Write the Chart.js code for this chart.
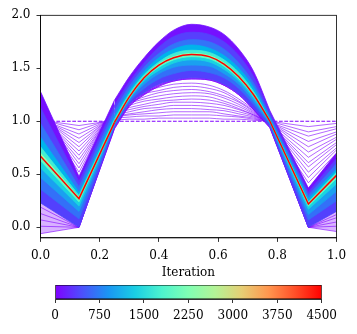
<!DOCTYPE html>
<html>
<head>
<meta charset="utf-8">
<script src="https://cdn.jsdelivr.net/npm/chart.js@4.4.1/dist/chart.umd.min.js"></script>
<style>
  html, body { margin: 0; padding: 0; background: #fff; }
  #wrap { position: relative; width: 357px; height: 334px; }
  #main { position: absolute; left: 0; top: 0; }
  #cbar { position: absolute; left: 0; top: 258px; }
</style>
</head>
<body>
<div id="wrap">
  <canvas id="main" width="357" height="334"></canvas>
  <canvas id="cbar" width="357" height="76"></canvas>
</div>
<script>
const xs = [0, 0.13, 0.25, 0.30, 0.35, 0.40, 0.45, 0.51, 0.57, 0.62, 0.67, 0.72, 0.775, 0.905, 1.0];

// iteration 0 (dashed) and the converged result (red)
const initial   = [1.00, 1.00, 1.00, 1.00, 1.00, 1.00, 1.00, 1.00, 1.00, 1.00, 1.00, 1.00, 1.00, 1.00, 1.00];
const finalIter = [0.67, 0.27, 0.99, 1.23, 1.41, 1.53, 1.60, 1.63, 1.61, 1.54, 1.42, 1.25, 1.00, 0.22, 0.49];

// overshooting iterates, outermost first
const upper1 = [1.28, 0.48, 1.20, 1.42, 1.60, 1.75, 1.86, 1.915, 1.89, 1.82, 1.68, 1.47, 1.10, 0.37, 0.70];
const upper2 = [1.13, 0.43, 1.15, 1.37, 1.55, 1.70, 1.80, 1.84, 1.82, 1.75, 1.62, 1.42, 1.08, 0.33, 0.65];
const upper3 = [0.98, 0.38, 1.10, 1.33, 1.51, 1.64, 1.73, 1.77, 1.75, 1.68, 1.55, 1.36, 1.05, 0.30, 0.60];
const upper4 = [0.85, 0.33, 1.05, 1.29, 1.47, 1.60, 1.68, 1.72, 1.69, 1.62, 1.50, 1.32, 1.03, 0.27, 0.55];
const upper5 = [0.76, 0.30, 1.02, 1.26, 1.44, 1.56, 1.64, 1.67, 1.65, 1.58, 1.46, 1.28, 1.01, 0.24, 0.52];
const upper6 = [0.70, 0.28, 1.00, 1.24, 1.42, 1.54, 1.61, 1.64, 1.62, 1.55, 1.43, 1.26, 1.00, 0.23, 0.50];

// undershooting iterates, outermost first
const lower1 = [0.23, 0.00, 0.95, 1.16, 1.27, 1.35, 1.39, 1.41, 1.40, 1.35, 1.26, 1.12, 0.95, 0.00, 0.15];
const lower2 = [0.36, 0.08, 0.96, 1.18, 1.31, 1.40, 1.45, 1.48, 1.46, 1.41, 1.31, 1.16, 0.97, 0.07, 0.25];
const lower3 = [0.47, 0.15, 0.97, 1.20, 1.35, 1.45, 1.51, 1.53, 1.52, 1.45, 1.35, 1.19, 0.98, 0.12, 0.34];
const lower4 = [0.56, 0.20, 0.98, 1.21, 1.38, 1.48, 1.55, 1.58, 1.56, 1.49, 1.38, 1.22, 0.99, 0.17, 0.41];
const lower5 = [0.63, 0.24, 0.99, 1.22, 1.40, 1.51, 1.58, 1.61, 1.59, 1.52, 1.40, 1.24, 1.00, 0.20, 0.46];

// thin purple iterates pinned at 0 under the band
const lowTail1 = [-0.06, 0.00, 0.93, 1.14, 1.25, 1.33, 1.38, 1.40, 1.39, 1.34, 1.25, 1.11, 0.94, 0.00, -0.04];
const lowTail2 = [0.01, 0.00, 0.93, 1.14, 1.25, 1.33, 1.38, 1.40, 1.39, 1.34, 1.25, 1.11, 0.94, 0.00, 0.01];
const lowTail3 = [0.07, 0.00, 0.94, 1.15, 1.26, 1.34, 1.38, 1.40, 1.39, 1.34, 1.25, 1.11, 0.94, 0.00, 0.05];
const lowTail4 = [0.13, 0.00, 0.94, 1.15, 1.26, 1.34, 1.39, 1.41, 1.40, 1.35, 1.26, 1.12, 0.95, 0.00, 0.09];
const lowTail5 = [0.19, 0.00, 0.95, 1.16, 1.27, 1.35, 1.39, 1.41, 1.40, 1.35, 1.26, 1.12, 0.95, 0.00, 0.12];

// first iterations leaving the flat start
const early = [
  [1.01, 0.96, 1.01, 1.02, 1.02, 1.03, 1.03, 1.03, 1.03, 1.02, 1.02, 1.01, 1.00, 0.95, 0.98],
  [1.02, 0.92, 1.03, 1.04, 1.05, 1.05, 1.06, 1.06, 1.06, 1.05, 1.04, 1.02, 1.00, 0.90, 0.95],
  [1.02, 0.88, 1.04, 1.06, 1.07, 1.08, 1.09, 1.09, 1.09, 1.07, 1.05, 1.03, 0.99, 0.86, 0.93],
  [1.03, 0.84, 1.05, 1.07, 1.09, 1.11, 1.12, 1.12, 1.11, 1.10, 1.07, 1.04, 0.99, 0.81, 0.90],
  [1.04, 0.80, 1.06, 1.09, 1.12, 1.13, 1.15, 1.15, 1.14, 1.12, 1.09, 1.05, 0.99, 0.76, 0.88],
  [1.05, 0.76, 1.08, 1.11, 1.14, 1.16, 1.18, 1.18, 1.17, 1.15, 1.11, 1.06, 0.99, 0.71, 0.85],
  [1.05, 0.72, 1.09, 1.13, 1.16, 1.19, 1.20, 1.21, 1.20, 1.17, 1.12, 1.06, 0.98, 0.66, 0.83],
  [1.06, 0.68, 1.10, 1.15, 1.19, 1.21, 1.23, 1.24, 1.23, 1.19, 1.14, 1.07, 0.98, 0.61, 0.80],
  [1.07, 0.64, 1.11, 1.17, 1.21, 1.24, 1.26, 1.27, 1.26, 1.22, 1.16, 1.08, 0.98, 0.57, 0.78],
  [1.08, 0.60, 1.13, 1.18, 1.23, 1.27, 1.29, 1.30, 1.28, 1.24, 1.18, 1.09, 0.98, 0.52, 0.75],
  [1.08, 0.56, 1.14, 1.20, 1.26, 1.29, 1.32, 1.33, 1.31, 1.27, 1.19, 1.10, 0.97, 0.47, 0.73],
  [1.09, 0.52, 1.15, 1.22, 1.28, 1.32, 1.35, 1.36, 1.34, 1.29, 1.21, 1.11, 0.97, 0.42, 0.70]
];

// tick labels
const xTicks = [0, 0.2, 0.4, 0.6, 0.8, 1.0];
const yTicks = [0, 0.5, 1.0, 1.5, 2.0];
const cbarTicks = [0, 750, 1500, 2250, 3000, 3750, 4500];

/* -----------------------------------------------------
   STYLE
----------------------------------------------------- */
const FONT = "'DejaVu Serif', serif";
const PURPLE = '#8000ff';
const rainbow = ['#8000ff', '#4d4ffc', '#1a96f3', '#1acee3', '#4df3ce', '#80ffb4',
                 '#b3f396', '#e6ce74', '#ff964f', '#ff4f28', '#ff0000'];

Chart.defaults.font.family = FONT;
Chart.defaults.font.size = 12;
Chart.defaults.color = '#000';

const pts = ys => ys.map((y, i) => ({ x: xs[i], y }));

/* -----------------------------------------------------
   DATASETS (lower order = drawn on top)
   each curve = straight left V, smooth hump, straight right V
----------------------------------------------------- */
const pieces = [[0, 2, false], [2, 12, true], [12, 14, false]];
const datasets = [];

function addCurve(ys, style, fillTo) {
  const ids = [];
  pieces.forEach(([a, b, smooth], s) => {
    ids.push(datasets.length);
    datasets.push({
      data: pts(ys).slice(a, b + 1),
      cubicInterpolationMode: smooth ? 'monotone' : 'default',
      ...style,
      fill: fillTo ? fillTo[s] : false
    });
  });
  return ids;
}

const redIds = addCurve(finalIter, { borderColor: '#ff0000', borderWidth: 1.5, order: 0 });

// band: inner layers on top, every layer filled to the red curve
const bandLayers = [
  [upper6, '#99fca5'], [lower5, '#66fcc2'],
  [upper5, '#42edd3'], [lower4, '#1ad4e0'],
  [upper4, '#00b4eb'], [lower3, '#1aa0f0'],
  [upper3, '#3374f8'], [lower2, '#3370f8'],
  [upper2, '#573ffd'], [lower1, '#5340fd'],
  [upper1, '#7510ff']
];
let lower1Ids = null;
bandLayers.forEach(([ys, col], k) => {
  const ids = addCurve(ys, { borderColor: col, backgroundColor: col, borderWidth: 0.8, order: k + 1 }, redIds);
  if (ys === lower1) lower1Ids = ids;
});

datasets.push({
  data: pts(initial), borderColor: PURPLE, borderWidth: 1.1, borderDash: [3.7, 1.6],
  fill: false, order: 20
});

[lowTail1, lowTail2, lowTail3, lowTail4, lowTail5].forEach((ys, k) => {
  addCurve(ys, {
    borderColor: PURPLE, borderWidth: 0.6,
    backgroundColor: 'rgba(128,0,255,0.3)', order: 21 + k
  }, k === 0 ? lower1Ids : null);
});

early.forEach((ys, k) => {
  addCurve(ys, { borderColor: PURPLE, borderWidth: 0.6, order: 30 + k });
});

/* -----------------------------------------------------
   FULL FRAME AROUND THE AXES
----------------------------------------------------- */
const frame = {
  id: 'frame',
  afterDatasetsDraw(chart) {
    const { ctx, chartArea: a } = chart;
    ctx.save();
    ctx.strokeStyle = '#000';
    ctx.lineWidth = 0.8;
    ctx.strokeRect(a.left, a.top, a.right - a.left, a.bottom - a.top);
    ctx.restore();
  }
};

const axisCommon = {
  grid: { drawOnChartArea: false, drawTicks: true, tickLength: 4, tickColor: '#000', tickWidth: 0.8 },
  border: { display: true, color: '#000', width: 0.8 }
};

new Chart(document.getElementById('main'), {
  type: 'line',
  data: { datasets },
  options: {
    responsive: false,
    animation: false,
    devicePixelRatio: 1,
    events: [],
    layout: { padding: { left: 0, top: 15.3, right: 20.5, bottom: 0 } },
    elements: { point: { radius: 0 }, line: { tension: 0 } },
    plugins: { legend: { display: false }, tooltip: { enabled: false } },
    scales: {
      x: {
        type: 'linear', min: 0, max: 1,
        afterBuildTicks: s => { s.ticks = xTicks.map(v => ({ value: v })); },
        afterFit: s => { s.height = 334 - 237.9; },
        ticks: { padding: 7, callback: v => v.toFixed(1) },
        ...axisCommon
      },
      y: {
        type: 'linear', min: -0.1, max: 2.0,
        afterBuildTicks: s => { s.ticks = yTicks.map(v => ({ value: v })); },
        afterFit: s => { s.width = 40.5; },
        ticks: { padding: 6, callback: v => v.toFixed(1) },
        ...axisCommon
      }
    }
  },
  plugins: [frame]
});

/* -----------------------------------------------------
   COLORBAR
----------------------------------------------------- */
new Chart(document.getElementById('cbar'), {
  type: 'bar',
  data: {
    labels: [''],
    datasets: [{
      data: [[cbarTicks[0], cbarTicks[cbarTicks.length - 1]]],
      backgroundColor: c => {
        const area = c.chart.chartArea;
        if (!area) return PURPLE;
        const g = c.chart.ctx.createLinearGradient(area.left, 0, area.right, 0);
        rainbow.forEach((col, i) => g.addColorStop(i / (rainbow.length - 1), col));
        return g;
      },
      borderColor: '#000',
      borderWidth: 0.8,
      borderSkipped: false,
      barPercentage: 1,
      categoryPercentage: 1
    }]
  },
  options: {
    indexAxis: 'y',
    responsive: false,
    animation: false,
    devicePixelRatio: 1,
    events: [],
    layout: { padding: { left: 55, right: 35.3, top: 0, bottom: 0 } },
    plugins: {
      legend: { display: false },
      tooltip: { enabled: false },
      title: {
        display: true, text: 'Iteration', color: '#000',
        font: { family: FONT, size: 12, weight: 'normal' },
        padding: { top: 8, bottom: 4.6 }
      }
    },
    scales: {
      y: { display: false },
      x: {
        type: 'linear', min: 0, max: 4500,
        afterBuildTicks: s => { s.ticks = cbarTicks.map(v => ({ value: v })); },
        afterFit: s => { s.height = 35; },
        ticks: { padding: 6, callback: v => String(v) },
        ...axisCommon
      }
    }
  }
});
</script>
</body>
</html>
